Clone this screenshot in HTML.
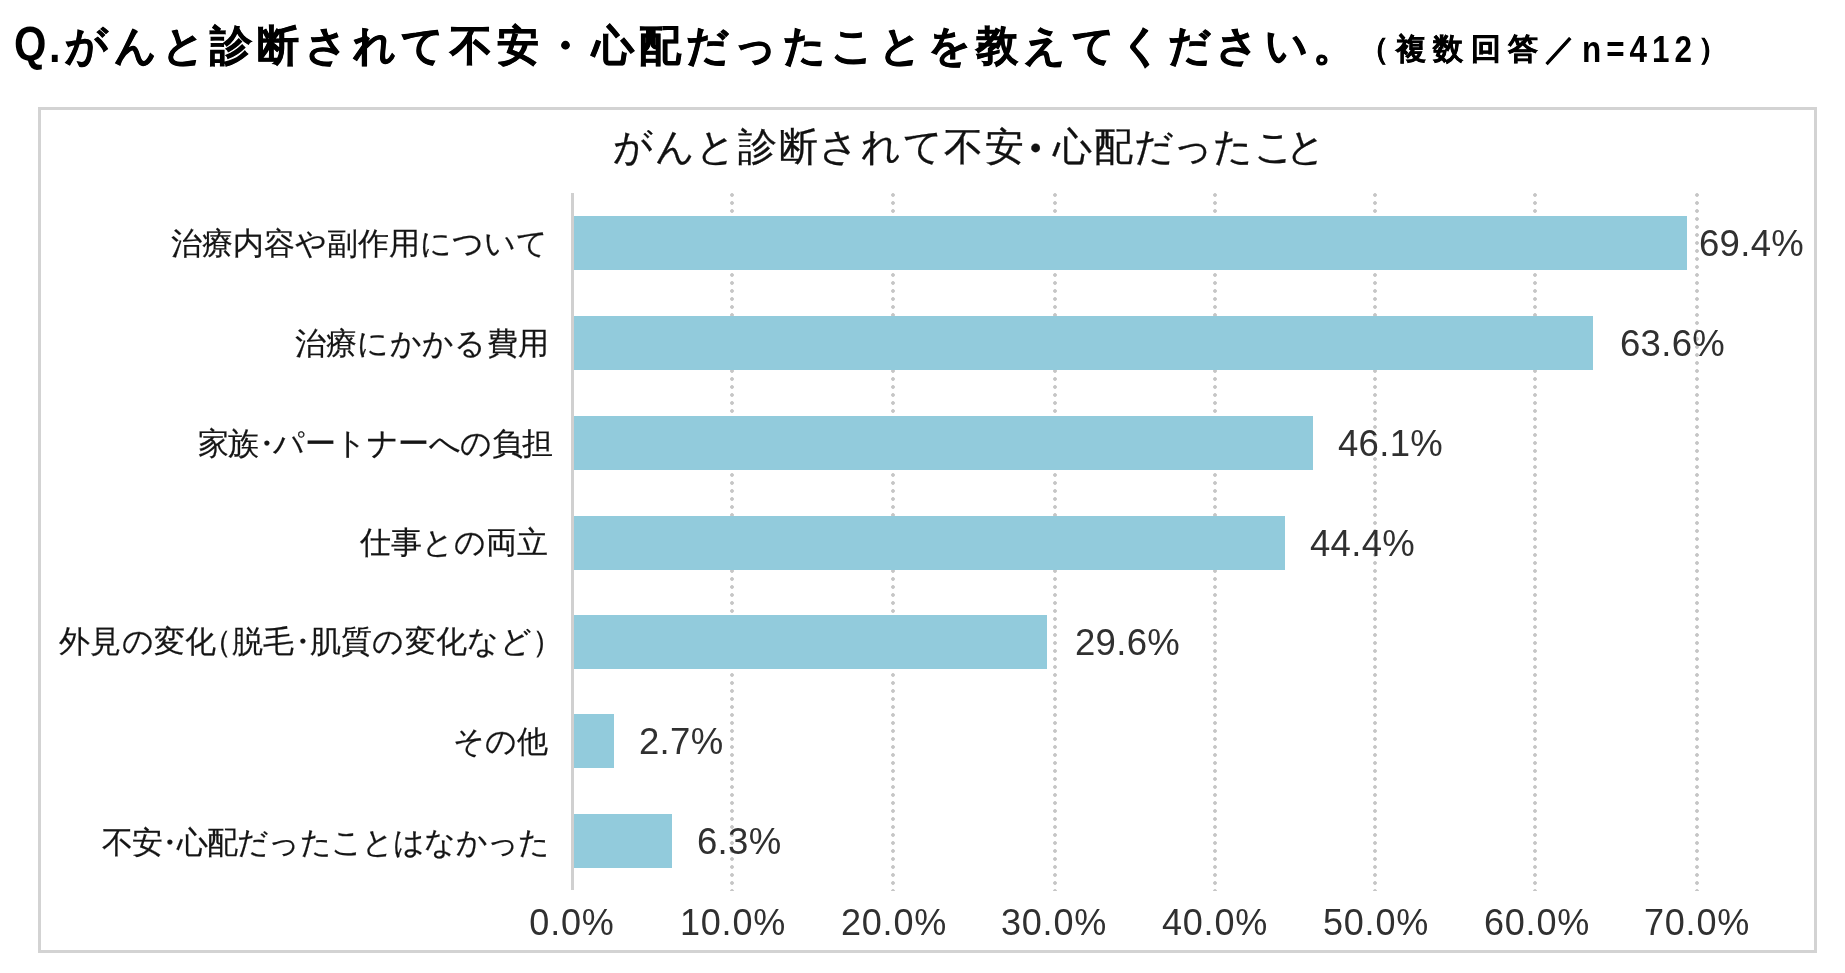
<!DOCTYPE html>
<html lang="ja">
<head>
<meta charset="utf-8">
<style>
*{margin:0;padding:0;box-sizing:border-box;}
html,body{width:1845px;height:973px;background:#fff;overflow:hidden;}
body{position:relative;font-family:"Liberation Sans",sans-serif;color:#000;-webkit-font-smoothing:antialiased;}
.wrap{position:absolute;left:0;top:0;width:1845px;height:973px;}
.q,.qs,.ct,.lab,.val,.ax{filter:grayscale(1);}
.q{position:absolute;left:14px;top:13px;-webkit-text-stroke:0.7px #000;font-size:41.7px;font-weight:bold;letter-spacing:5.3px;white-space:nowrap;line-height:60px;}
.q .lat{display:inline-block;font-size:49px;letter-spacing:0;-webkit-text-stroke:0;transform:scaleX(0.85);transform-origin:0 50%;margin-right:-4.5px;letter-spacing:2px;}
.qs{position:absolute;left:1359px;top:22px;-webkit-text-stroke:0.5px #000;font-size:29.5px;font-weight:bold;letter-spacing:7.2px;white-space:nowrap;line-height:50px;}
.qs .num{display:inline-block;font-size:37px;letter-spacing:5.9px;-webkit-text-stroke:0;transform:scaleX(0.85);transform-origin:0 50%;position:relative;top:2.5px;margin-right:-20px;}
.frame{position:absolute;left:38px;top:107px;width:1779px;height:846px;border:3px solid #d3d3d3;}
.ct{position:absolute;left:613px;top:120px;font-size:39px;letter-spacing:1.65px;white-space:nowrap;color:#111;-webkit-text-stroke:0.3px #111;line-height:54px;}
.nd{margin:0 -8.5px;}
.ct .nd{font-size:54px;line-height:0;margin:0 -10.3px 0 -18px;position:relative;top:6.5px;}
.axis{position:absolute;left:571px;top:193px;width:3px;height:697px;background:#d0d0d0;z-index:2;}
.grid{position:absolute;top:193px;width:4px;height:698px;
 background-image:radial-gradient(circle,#c6c6c6 1.5px,transparent 2.2px);background-size:4px 8px;background-position:0 -2px;}
.bar{position:absolute;left:571px;height:54px;background:#92cbdc;z-index:1;}
.lab{position:absolute;right:1297px;font-size:31px;white-space:nowrap;color:#151515;-webkit-text-stroke:0.2px #151515;line-height:40px;}
.lab .nd{margin:0 -8px;}
.lab .pl{margin-left:-16px;}
.lab .pr{margin-right:-16px;}
.val{position:absolute;font-size:36.5px;letter-spacing:0.3px;white-space:nowrap;color:#303030;line-height:40px;}
.ax{position:absolute;top:903px;font-size:36px;letter-spacing:0.8px;white-space:nowrap;color:#303030;line-height:40px;text-align:center;width:140px;}
</style>
</head>
<body>
<div class="wrap">
<div class="q"><span class="lat">Q<span style="position:relative;top:2px;left:1px">.</span></span>がんと診断されて不安・心配だったことを教えてください。</div>
<div class="qs">（複数回答／<span class="num">n=412</span>）</div>
<div class="frame"></div>
<div class="ct">がんと診断されて不安<span class="nd">・</span>心配<span style="letter-spacing:-0.85px">だ</span><span style="letter-spacing:0.05px">っ</span><span style="letter-spacing:0.15px">た</span><span style="letter-spacing:-7.85px">こ</span>と</div>

<div class="grid" style="left:730px"></div>
<div class="grid" style="left:891px"></div>
<div class="grid" style="left:1053px"></div>
<div class="grid" style="left:1213px"></div>
<div class="grid" style="left:1373px"></div>
<div class="grid" style="left:1533px"></div>
<div class="grid" style="left:1695px"></div>

<div class="bar" style="top:216px;width:1116px"></div>
<div class="bar" style="top:316px;width:1022px"></div>
<div class="bar" style="top:416px;width:742px"></div>
<div class="bar" style="top:516px;width:714px"></div>
<div class="bar" style="top:615px;width:476px"></div>
<div class="bar" style="top:714px;width:43px"></div>
<div class="bar" style="top:814px;width:101px"></div>
<div class="axis"></div>

<div class="lab" style="top:224px;right:1297.00px;letter-spacing:0px">治療内容や副作用について</div>
<div class="lab" style="top:324px;right:1295.65px;letter-spacing:0.35px">治療にかかる費用</div>
<div class="lab" style="top:424px;right:1292.53px;letter-spacing:-0.53px">家族<span class="nd">・</span>パートナーへの負担</div>
<div class="lab" style="top:523px;right:1297.00px;letter-spacing:0px">仕事との両立</div>
<div class="lab" style="top:622px;right:1297.70px;letter-spacing:0.3px">外見の変化<span class="pl">（</span>脱毛<span class="nd">・</span>肌質の変化など<span class="pr">）</span></div>
<div class="lab" style="top:722px;right:1297.00px;letter-spacing:0px">その他</div>
<div class="lab" style="top:823px;right:1295.79px;letter-spacing:-0.79px">不安<span class="nd">・</span>心配だったことはなかった</div>

<div class="val" style="left:1699px;top:224px">69.4%</div>
<div class="val" style="left:1620px;top:324px">63.6%</div>
<div class="val" style="left:1338px;top:424px">46.1%</div>
<div class="val" style="left:1310px;top:524px">44.4%</div>
<div class="val" style="left:1075px;top:623px">29.6%</div>
<div class="val" style="left:639px;top:722px">2.7%</div>
<div class="val" style="left:697px;top:822px">6.3%</div>

<div class="ax" style="left:502px">0.0%</div>
<div class="ax" style="left:663px">10.0%</div>
<div class="ax" style="left:824px">20.0%</div>
<div class="ax" style="left:984px">30.0%</div>
<div class="ax" style="left:1145px">40.0%</div>
<div class="ax" style="left:1306px">50.0%</div>
<div class="ax" style="left:1467px">60.0%</div>
<div class="ax" style="left:1627px">70.0%</div>
</div>
</body>
</html>
